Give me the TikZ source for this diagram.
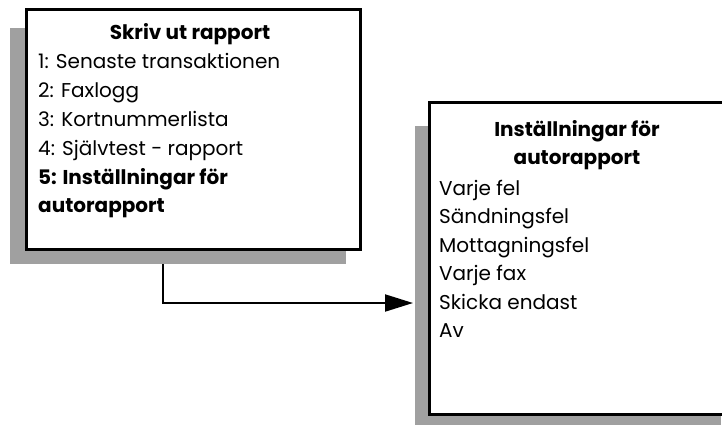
\documentclass[tikz,border=0pt]{standalone}
\usepackage{fontspec}
\setmainfont{Poppins}
\usetikzlibrary{arrows.meta}
\definecolor{shadowgray}{RGB}{160,160,160}
\newcommand{\boxfont}{\fontsize{20}{21}\selectfont}
\tikzset{
  box/.style={draw=black, line width=2.8pt, fill=white, anchor=north west, inner sep=0pt},
  item/.style={anchor=base west, inner sep=0pt, font=\boxfont},
  bolditem/.style={anchor=base west, inner sep=0pt, font=\boxfont\bfseries},
  title/.style={anchor=base, inner sep=0pt, font=\boxfont\bfseries},
  conn/.style={line width=2pt, -{Triangle[length=28pt,width=17pt]}}
}
\begin{document}
\begin{tikzpicture}[x=1pt,y=-1pt]
\useasboundingbox (0,0) rectangle (722,424);
% left box
\fill[shadowgray] (10,28) rectangle (346,264);
\node[box, minimum width=334pt, minimum height=240pt] (L) at (25,8) {};
\node[title] (lt) at (190,39) {Skriv ut rapport};
\node[item] (l1) at (38,68) {1: Senaste transaktionen};
\node[item] (l2) at (38,97) {2: Faxlogg};
\node[item] (l3) at (38,126) {3: Kortnummerlista};
\node[item] (l4) at (38,155) {4: Självtest - rapport};
\node[bolditem] (l5) at (38,184) {5: Inställningar för};
\node[bolditem] (l6) at (38,212) {autorapport};
% right box
\fill[shadowgray] (415,126) rectangle (721,430);
\node[box, minimum width=300pt, minimum height=312pt] (R) at (428,101) {};
\node[title] (rt1) at (577,136) {Inställningar för};
\node[title] (rt2) at (577,164) {autorapport};
\node[item] (r1) at (439,195) {Varje fel};
\node[item] (r2) at (439,223) {Sändningsfel};
\node[item] (r3) at (439,252) {Mottagningsfel};
\node[item] (r4) at (439,280) {Varje fax};
\node[item] (r5) at (439,309) {Skicka endast};
\node[item] (r6) at (439,337) {Av};
% connector
\coordinate (s) at (163,264);
\coordinate (t) at (413,303);
\draw[conn] (s) |- (t);
\end{tikzpicture}
\end{document}
